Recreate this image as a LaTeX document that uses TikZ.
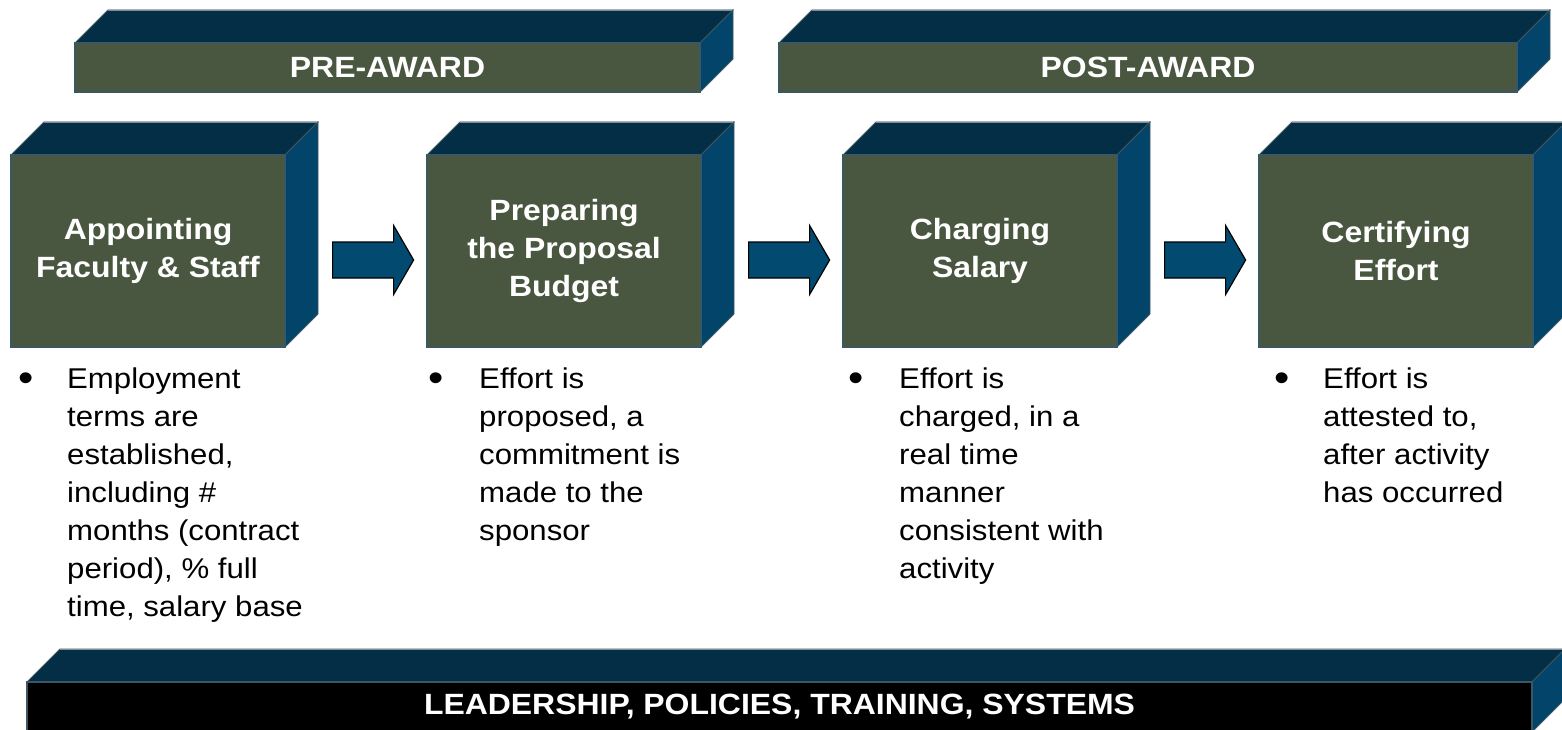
\documentclass[tikz,border=0pt]{standalone}
\usepackage{fontspec}
\setmainfont{Liberation Sans}[FakeStretch=1.09]
\usetikzlibrary{calc}
\definecolor{frontc}{HTML}{4A5740}
\definecolor{topc}{HTML}{032E45}
\definecolor{sidec}{HTML}{03446A}
\definecolor{arrowc}{HTML}{034A70}
\definecolor{edgec}{HTML}{3A5762}
\definecolor{rimc}{HTML}{7F8F98}
% cube: name, x1, y1, x2, y2, front fill, text
\newcommand\cubebox[7]{%
  \filldraw[topface] (#2,#3) -- (#2+33,#3-33) -- (#4+33,#3-33) -- (#4,#3) -- cycle;
  \draw[rimc, line width=0.8pt] (#2+33,#3-33) -- (#4+33,#3-33);
  \filldraw[sideface] (#4,#3) -- (#4+33,#3-33) -- (#4+33,#5-33) -- (#4,#5) -- cycle;
  \node[frontface, fill=#6, minimum width=#4-#2, minimum height=#5-#3] (#1) at ({(#2+#4)/2},{(#3+#5)/2}) {#7};%
}
\begin{document}
\begin{tikzpicture}[x=1pt,y=-1pt,
  frontface/.style={draw=edgec, line width=1.2pt, text=white, align=center, inner sep=0pt,
    font=\bfseries\fontsize{29.3}{38}\selectfont},
  topface/.style={fill=topc, draw=edgec, line width=0.8pt, line join=miter},
  sideface/.style={fill=sidec, draw=edgec, line width=0.8pt, line join=miter},
  blockarrow/.style={fill=arrowc, draw=black, line width=1.2pt, line join=miter},
  bullettext/.style={anchor=north west, inner sep=0pt, align=left, text=black,
    font=\fontsize{28.6}{38}\selectfont},
  bulletdot/.style={anchor=base west, inner sep=0pt, text=black,
    font=\fontsize{40}{40}\selectfont}]
\useasboundingbox (0,0) rectangle (1562,730);
\fill[white] (0,0) rectangle (1562,730);

% phase bars
\cubebox{pre}{75}{43}{700}{92}{frontc}{PRE-AWARD}
\cubebox{post}{779}{43}{1517}{92}{frontc}{POST-AWARD}

% step boxes
\cubebox{b1}{11}{155}{285}{347}{frontc}{Appointing\\Faculty \& Staff}
\cubebox{b2}{427}{155}{701}{347}{frontc}{Preparing\\the Proposal\\Budget}
\cubebox{b3}{843}{155}{1117}{347}{frontc}{Charging\\Salary}
\cubebox{b4}{1259}{155}{1533}{347}{frontc}{Certifying\\Effort}

% block arrows
\foreach \a/\b in {b1/b2, b2/b3, b3/b4}{
  \draw[blockarrow] ($(\a.east)+(47,-9)$) -- ++(61,0) -- ++(0,-16.5) -- ++(20,34.5)
    -- ++(-20,34.5) -- ++(0,-16.5) -- ++(-61,0) -- cycle;
}

% bullets
\node[bulletdot] (d1) at (18.5,391) {•};
\node[bullettext] (t1) at (67,368) {Employment\\terms are\\established,\\including \#\\months (contract\\period), \% full\\time, salary base};
\node[bulletdot] (d2) at (428.5,391) {•};
\node[bullettext] (t2) at (479,368) {Effort is\\proposed, a\\commitment is\\made to the\\sponsor};
\node[bulletdot] (d3) at (848.5,391) {•};
\node[bullettext] (t3) at (899,368) {Effort is\\charged, in a\\real time\\manner\\consistent with\\activity};
\node[bulletdot] (d4) at (1274.5,391) {•};
\node[bullettext] (t4) at (1323,368) {Effort is\\attested to,\\after activity\\has occurred};

% foundation bar
\cubebox{lead}{27}{682}{1532}{732}{black}{LEADERSHIP, POLICIES, TRAINING, SYSTEMS}
\end{tikzpicture}
\end{document}
